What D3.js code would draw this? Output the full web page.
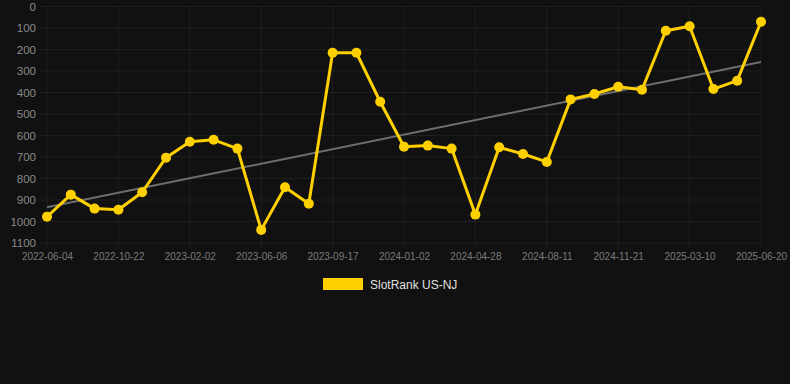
<!DOCTYPE html>
<html>
<head>
<meta charset="utf-8">
<script src="https://cdn.jsdelivr.net/npm/d3@7"></script>
<style>
  html, body { margin: 0; padding: 0; background: #111111; }
  svg { display: block; }
</style>
</head>
<body>
<svg id="chart" width="790" height="384"></svg>
<script>
// dates for every point, only every third one gets a label
var dates = ["2022-06-04","2022-07-20","2022-09-05","2022-10-22","2022-11-25","2022-12-30",
  "2023-02-02","2023-03-15","2023-04-25","2023-06-06","2023-07-10","2023-08-13",
  "2023-09-17","2023-10-26","2023-11-24","2024-01-02","2024-02-10","2024-03-20",
  "2024-04-28","2024-06-01","2024-07-06","2024-08-11","2024-09-15","2024-10-18",
  "2024-11-21","2024-12-28","2025-02-02","2025-03-10","2025-04-15","2025-05-18","2025-06-20"]
var ranks = [978, 875, 940, 945, 864, 703, 629, 620, 661, 1039, 841, 917, 215, 215, 443,
  652, 647, 661, 968, 655, 686, 723, 432, 407, 373, 387, 113, 92, 384, 345, 71]
var yTicks = [0, 100, 200, 300, 400, 500, 600, 700, 800, 900, 1000, 1100]
var seriesName = "SlotRank US-NJ"

var svg = d3.select("#chart")
var x = d3.scalePoint().domain(dates).range([47, 761])
var y = d3.scaleLinear().domain([0, 1100]).range([6.5, 243])

var tickDates = dates.filter(function(d, i) { return i % 3 == 0 })

// grid
svg.append("g").selectAll("line").data(yTicks).enter().append("line")
  .attr("x1", 40).attr("x2", 761)
  .attr("y1", function(d) { return y(d) }).attr("y2", function(d) { return y(d) })
  .attr("stroke", "#1f1f1f").attr("stroke-width", 1)
svg.append("g").selectAll("line").data(tickDates).enter().append("line")
  .attr("x1", function(d) { return x(d) }).attr("x2", function(d) { return x(d) })
  .attr("y1", 6.5).attr("y2", 248)
  .attr("stroke", "#1f1f1f").attr("stroke-width", 1)

// axes
var yAxis = svg.append("g").attr("transform", "translate(40,0)")
  .call(d3.axisLeft(y).tickValues(yTicks).tickFormat(d3.format("d")).tickSize(0).tickPadding(4))
yAxis.select(".domain").remove()
yAxis.selectAll("text").attr("fill", "#8a8a8a").attr("font-size", 11.5)
  .attr("font-family", "Liberation Sans, Arial, sans-serif")

var xAxis = svg.append("g").attr("transform", "translate(0,253)")
  .call(d3.axisBottom(x).tickValues(tickDates).tickSize(0).tickPadding(0))
xAxis.select(".domain").remove()
xAxis.selectAll("text").attr("fill", "#7a7a7a").attr("font-size", 10)
  .attr("font-family", "Liberation Sans, Arial, sans-serif")

// trend line by least squares over point index
var n = ranks.length
var mx = d3.mean(ranks, function(d, i) { return i })
var my = d3.mean(ranks)
var sxy = d3.sum(ranks, function(d, i) { return (i - mx) * (d - my) })
var sxx = d3.sum(ranks, function(d, i) { return (i - mx) * (i - mx) })
var slope = sxy / sxx
var icpt = my - slope * mx
svg.append("line")
  .attr("x1", x(dates[0])).attr("y1", y(icpt))
  .attr("x2", x(dates[n - 1])).attr("y2", y(icpt + slope * (n - 1)))
  .attr("stroke", "#6e6e6e").attr("stroke-width", 2)

// series
var line = d3.line()
  .x(function(d, i) { return x(dates[i]) })
  .y(function(d) { return y(d) })
svg.append("path").datum(ranks)
  .attr("d", line).attr("fill", "none")
  .attr("stroke", "#ffd000").attr("stroke-width", 3).attr("stroke-linejoin", "round")
svg.append("g").selectAll("circle").data(ranks).enter().append("circle")
  .attr("cx", function(d, i) { return x(dates[i]) })
  .attr("cy", function(d) { return y(d) })
  .attr("r", 5).attr("fill", "#ffd000")

// legend
svg.append("rect").attr("x", 323).attr("y", 278).attr("width", 40).attr("height", 12)
  .attr("fill", "#ffd000")
svg.append("text").attr("x", 370).attr("y", 288.5).text(seriesName)
  .attr("fill", "#e0e0e0").attr("font-size", 12)
  .attr("font-family", "Liberation Sans, Arial, sans-serif")
</script>
</body>
</html>
